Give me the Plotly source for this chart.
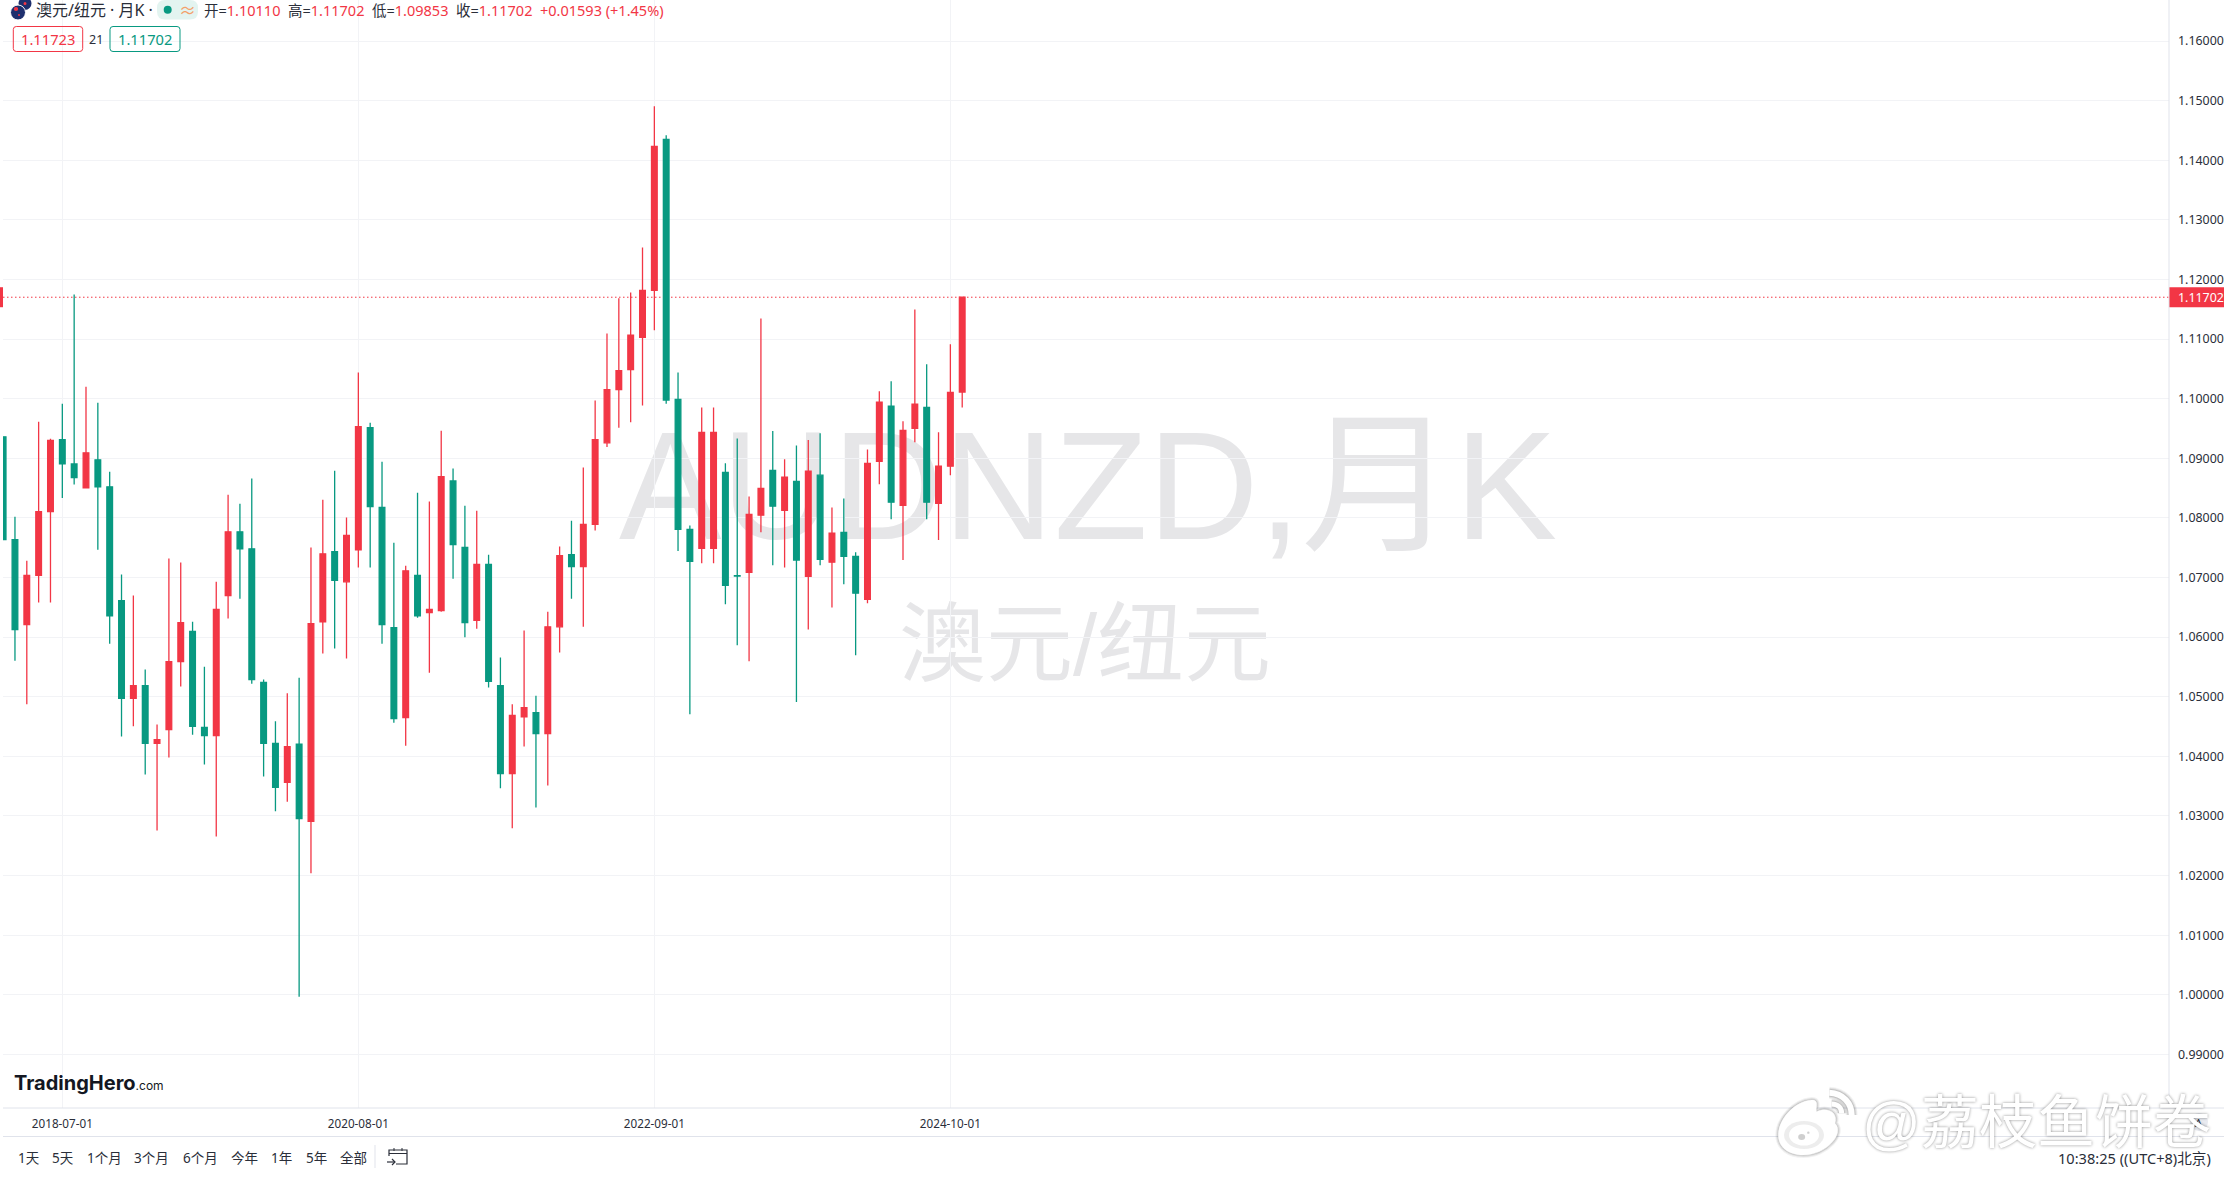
import plotly.graph_objects as go

months = [f"{y}-{m:02d}-01" for y in range(2018, 2025) for m in range(1, 13)][1:83]

opens = [1.09360,1.07636,1.06212,1.07035,1.08105,1.09314,1.08906,1.08506,1.08975,1.08521,
1.06612,1.04972,1.05188,1.04218,1.04449,1.05588,1.06096,1.04487,1.04349,1.06697,
1.07767,1.07482,1.05242,1.04218,1.03563,1.04203,1.02909,1.06258,1.07436,1.06928,
1.07466,1.09514,1.08175,1.06158,1.04649,1.07035,1.06412,1.06443,1.08621,1.07505,
1.06281,1.07221,1.05188,1.03710,1.04664,1.04734,1.04380,1.06173,1.07382,1.07182,
1.07890,1.09260,1.10153,1.10489,1.11030,1.11817,1.14350,1.09989,1.07806,1.07491,
1.07491,1.08764,1.07032,1.07087,1.08046,1.08798,1.08128,1.08614,1.07019,1.08716,
1.07258,1.07758,1.07354,1.06635,1.08949,1.09873,1.08210,1.09503,1.09852,1.08244,
1.08867,1.10110]
highs = [1.09360,1.08021,1.07282,1.09614,1.09329,1.09914,1.11747,1.10199,1.09930,1.08776,
1.07051,1.06697,1.05457,1.04534,1.07320,1.07251,1.06258,1.05504,1.06928,1.08390,
1.08236,1.08660,1.05288,1.04587,1.05057,1.05319,1.07505,1.08306,1.08791,1.08005,
1.10438,1.09598,1.08944,1.07582,1.07197,1.08421,1.08275,1.09460,1.08829,1.08206,
1.08121,1.07382,1.05658,1.04872,1.06112,1.05018,1.06427,1.07520,1.07951,1.08844,
1.09968,1.11092,1.11685,1.11783,1.12536,1.14904,1.14418,1.10441,1.07874,1.09852,
1.09852,1.08915,1.09332,1.08360,1.11345,1.09456,1.08983,1.09216,1.09305,1.09421,
1.08176,1.08326,1.07423,1.09147,1.10126,1.10291,1.09620,1.11495,1.10578,1.09435,
1.10913,1.11702]
lows = [1.07636,1.05604,1.04872,1.06581,1.06581,1.08336,1.08560,1.08506,1.07466,1.05888,
1.04333,1.04503,1.03694,1.02755,1.03979,1.05173,1.04364,1.03864,1.02655,1.06312,
1.06643,1.05219,1.03663,1.03079,1.03240,0.99969,1.02039,1.05727,1.05811,1.05642,
1.07166,1.07166,1.05888,1.04564,1.04179,1.06327,1.05403,1.06427,1.06981,1.05996,
1.06142,1.05157,1.03464,1.02794,1.04164,1.03140,1.03510,1.05742,1.06643,1.06173,
1.07790,1.09191,1.09514,1.09606,1.09887,1.11146,1.09914,1.07443,1.04705,1.07238,
1.07238,1.06553,1.05862,1.05595,1.07758,1.07204,1.07169,1.04910,1.06129,1.07204,
1.06498,1.06889,1.05697,1.06567,1.08566,1.07977,1.07293,1.09271,1.07977,1.07628,
1.08716,1.09853]
closes = [1.07636,1.06127,1.07035,1.08105,1.09299,1.08906,1.08675,1.09091,1.08521,1.06358,
1.04972,1.05188,1.04218,1.04280,1.05588,1.06243,1.04503,1.04349,1.06466,1.07767,
1.07482,1.05288,1.04218,1.03479,1.04164,1.02955,1.06227,1.07397,1.06951,1.07705,
1.09530,1.08190,1.06212,1.04633,1.07112,1.06358,1.06466,1.08690,1.07551,1.06243,
1.07221,1.05257,1.03710,1.04688,1.04818,1.04380,1.06173,1.07366,1.07182,1.07890,
1.09314,1.10153,1.10469,1.11064,1.11817,1.14233,1.09976,1.07806,1.07272,1.09435,
1.09435,1.06868,1.07025,1.08059,1.08497,1.08196,1.08682,1.07293,1.08785,1.07306,
1.07744,1.07354,1.06738,1.08915,1.09941,1.08264,1.09469,1.09907,1.08264,1.08867,
1.10106,1.11702]

date_ticks = ["2018-07-01", "2020-08-01", "2022-09-01", "2024-10-01"]
price_ticks = [0.99 + i * 0.01 for i in range(18)]
last_price = 1.11702
range_buttons = ["1天", "5天", "1个月", "3个月", "6个月", "今年", "1年", "5年", "全部"]
button_x = [28.7, 62.5, 104, 151, 200, 244, 281, 316, 353]

RED = "#F23645"
GREEN = "#089981"
TXT = "#2a2e39"
LINE = "#e0e3eb"
GRID = "#f2f3f6"
WM = "#e6e6e8"
CJK = "Noto Sans, Noto Sans CJK SC, sans-serif"

L, R, B = 3, 2169, 1108
def px(x): return (x - L) / (R - L)
def py(y): return 1 - y / B

fig = go.Figure(go.Candlestick(
    x=months, open=opens, high=highs, low=lows, close=closes,
    increasing=dict(line=dict(color=RED, width=1.3), fillcolor=RED),
    decreasing=dict(line=dict(color=GREEN, width=1.3), fillcolor=GREEN),
    whiskerwidth=0, hoverinfo="skip",
))

shapes = []
annots = []

def txt(x, y, text, size=13, color=TXT, anchor="left", family=CJK, **kw):
    annots.append(dict(xref="paper", yref="paper", x=px(x), y=py(y), text=text,
                       showarrow=False, xanchor=anchor, yanchor="middle",
                       font=dict(size=size, color=color, family=family, **kw.pop("fontkw", {})),
                       borderpad=0, **kw))

def rrect(x0, y0, x1, y1, r, line=None, fill="rgba(0,0,0,0)", width=1):
    d = (f"M {px(x0+r)} {py(y0)} L {px(x1-r)} {py(y0)} Q {px(x1)} {py(y0)} {px(x1)} {py(y0+r)} "
         f"L {px(x1)} {py(y1-r)} Q {px(x1)} {py(y1)} {px(x1-r)} {py(y1)} "
         f"L {px(x0+r)} {py(y1)} Q {px(x0)} {py(y1)} {px(x0)} {py(y1-r)} "
         f"L {px(x0)} {py(y0+r)} Q {px(x0)} {py(y0)} {px(x0+r)} {py(y0)} Z")
    shapes.append(dict(type="path", xref="paper", yref="paper", path=d, fillcolor=fill,
                       line=dict(color=line or "rgba(0,0,0,0)", width=width if line else 0), layer="above"))

def circ(cx, cy, rx, ry, fill, line=None, width=1):
    shapes.append(dict(type="circle", xref="paper", yref="paper",
                       x0=px(cx-rx), x1=px(cx+rx), y0=py(cy+ry), y1=py(cy-ry), fillcolor=fill,
                       line=dict(color=line or "rgba(0,0,0,0)", width=width if line else 0), layer="above"))

def seg(pts, color, width=1, layer="above"):
    d = "M " + " L ".join(f"{px(x)} {py(y)}" for x, y in pts)
    shapes.append(dict(type="path", xref="paper", yref="paper", path=d, fillcolor="rgba(0,0,0,0)",
                       line=dict(color=color, width=width), layer=layer))

def curve(pts, color, width, fill="rgba(0,0,0,0)", close=False):
    # pts: start point followed by (control, control, end) triples
    d = f"M {px(pts[0][0])} {py(pts[0][1])}"
    for i in range(1, len(pts), 3):
        a, b, c = pts[i], pts[i+1], pts[i+2]
        d += f" C {px(a[0])} {py(a[1])} {px(b[0])} {py(b[1])} {px(c[0])} {py(c[1])}"
    d += " Z" if close else ""
    shapes.append(dict(type="path", xref="paper", yref="paper", path=d, fillcolor=fill,
                       line=dict(color=color, width=width), layer="above"))

def wm(cx, cy, text, size):
    shapes.append(dict(type="rect", xref="paper", yref="paper",
                       x0=px(cx-600), x1=px(cx+600), y0=py(cy+100), y1=py(cy-100),
                       fillcolor="rgba(0,0,0,0)", line=dict(width=0), layer="below",
                       label=dict(text=text, textposition="middle center",
                                  font=dict(size=size, color=WM,
                                            family="Liberation Sans, Noto Sans CJK SC, sans-serif"))))

# watermarks under the candles
wm(1088, 471, "AUDNZD,月K", 153.5)
wm(1085, 636, "澳元/纽元", 87)

# last price line and its labels
shapes.append(dict(type="line", xref="paper", yref="y", x0=0, x1=1, y0=last_price, y1=last_price,
                   line=dict(color=RED, width=1, dash="1.5px,2.5px"), layer="below"))
shapes.append(dict(type="rect", xref="paper", yref="y", x0=px(0), x1=px(3),
                   y0=last_price - 10/5961, y1=last_price + 10/5961,
                   fillcolor=RED, line=dict(width=0), layer="above"))
shapes.append(dict(type="rect", xref="paper", yref="y", x0=px(2169), x1=px(2224),
                   y0=last_price - 10/5961, y1=last_price + 10/5961,
                   fillcolor=RED, line=dict(width=0), layer="above"))
txt(2177, 297.5, f"{last_price:.5f}", size=12.4, color="white", family="Noto Sans, sans-serif")

# frame lines
seg([(L, 1108), (2224, 1108)], LINE, 1)
seg([(L, 1136.5), (2224, 1136.5)], LINE, 1)
seg([(2169, 0), (2169, 1108)], LINE, 1)

# flag icon
circ(25, 3.5, 6.5, 6.5, "#1e2f6e")
circ(25, 3.5, 1.5, 1.5, RED)
circ(18, 12.5, 7.5, 7.5, "#1e2f6e", line="white", width=1)
circ(16, 9, 2.2, 2, RED)
circ(19, 15, 1, 1, RED)

# header
txt(35, 9.5, "澳元/纽元 · 月K ·", size=16)
rrect(157, 0, 198, 19.5, 8, fill="#e3f4f0")
circ(167.7, 9.7, 4, 4, GREEN)
txt(187.5, 10, "≈", size=17, color="#f4a06a", anchor="center")
r = lambda s: f'<span style="color:{RED}">{s}</span>'
txt(203, 9.5, f"开={r('1.10110')}  高={r('1.11702')}  低={r('1.09853')}  收={r('1.11702')}  {r('+0.01593 (+1.45%)')}", size=14.5)
rrect(13.3, 26.5, 82.7, 51.5, 3, line=RED)
txt(48, 39, "1.11723", size=14.7, color=RED, anchor="center")
txt(96, 39, "21", size=12.5, anchor="center")
rrect(110, 26.5, 180, 51.5, 3, line=GREEN)
txt(145, 39, "1.11702", size=14.7, color=GREEN, anchor="center")

# logo
txt(13, 1083, '<b>TradingHero</b><span style="font-size:12px">.com</span>', size=20, color="#131722", family="Inter, sans-serif")

# bottom toolbar
for label, x in zip(range_buttons, button_x):
    txt(x, 1158, label, size=13.5, anchor="center")
seg([(375, 1145), (375, 1168)], "#f0f1f5", 2)
seg([(389, 1156), (389, 1150), (407, 1150), (407, 1164), (396, 1164)], TXT, 1.2)
seg([(389, 1153.5), (407, 1153.5)], TXT, 1)
seg([(394, 1148), (394, 1151)], TXT, 1)
seg([(402, 1148), (402, 1151)], TXT, 1)
seg([(387, 1162), (395, 1162)], TXT, 1.2)
seg([(392, 1159), (395, 1162), (392, 1165)], TXT, 1.2)
txt(2212, 1158, "10:38:25 ((UTC+8)北京)", size=14.6, anchor="right")

# round corner button
circ(2199, 1122, 9, 9, "#e8eaf0")
txt(2199, 1122, "A", size=11, anchor="center")

# weibo style signature
X = lambda z: 1770 + z / 3
Y = lambda z: 1080 + z / 3
blob = [(X(25), Y(165)), (X(25), Y(120)), (X(70), Y(65)), (X(125), Y(60)),
        (X(150), Y(60)), (X(135), Y(85)), (X(140), Y(95)),
        (X(170), Y(80)), (X(205), Y(95)), (X(195), Y(130)),
        (X(225), Y(160)), (X(170), Y(225)), (X(100), Y(225)),
        (X(60), Y(225)), (X(25), Y(205)), (X(25), Y(165))]
ring = [(X(178), Y(38)), (X(220), Y(40)), (X(245), Y(70)), (X(245), Y(105))]
ring2 = [(X(185), Y(72)), (X(205), Y(72)), (X(215), Y(85)), (X(215), Y(100))]
for w, a in ((6, .05), (4, .08), (2, .12)):
    curve(blob, f"rgba(0,0,0,{a})", w, close=True)
    curve(ring, f"rgba(0,0,0,{a})", 6 + w)
    curve(ring2, f"rgba(0,0,0,{a})", 5 + w)
curve(blob, "white", 0.5, fill="white", close=True)
curve(ring, "white", 6)
curve(ring2, "white", 5)
circ(X(102), Y(165), 20, 14, "rgba(225,225,225,0.6)")
circ(X(102), Y(165), 15, 10.5, "white")
circ(X(95), Y(171), 3.5, 3, "#cfcfcf")
circ(X(115), Y(158), 1.2, 1.2, "#cfcfcf")
txt(2036, 1122, "@荔枝鱼饼卷", size=58, color="white", anchor="center",
    fontkw=dict(shadow="0px 0px 3px rgba(0,0,0,0.45)"), family="Liberation Sans, Noto Sans CJK SC, sans-serif")

fig.update_layout(
    width=2224, height=1177,
    margin=dict(l=L, r=2224 - R, t=0, b=1177 - B, pad=0, autoexpand=False),
    paper_bgcolor="white", plot_bgcolor="white", showlegend=False,
    boxgap=0.52, boxgroupgap=0,
    shapes=shapes, annotations=annots,
    xaxis=dict(type="category", range=[-0.01, 182.92], rangeslider=dict(visible=False),
               tickmode="array", tickvals=date_ticks, ticktext=date_ticks,
               showgrid=True, gridcolor=GRID, gridwidth=1, zeroline=False, showline=False,
               ticks="", ticklabelstandoff=7, tickfont=dict(size=11.7, color=TXT, family="Noto Sans, sans-serif")),
    yaxis=dict(side="right", range=[0.98101, 1.16688], tickmode="array", tickvals=price_ticks,
               tickformat=".5f", showgrid=True, gridcolor=GRID, gridwidth=1, zeroline=False,
               showline=False, ticks="", ticklabelstandoff=8,
               tickfont=dict(size=12.4, color=TXT, family="Noto Sans, sans-serif")),
)

fig.write_html("out.html", config=dict(displayModeBar=False),
               post_script="document.body.style.margin='0';document.body.style.overflow='hidden';")
